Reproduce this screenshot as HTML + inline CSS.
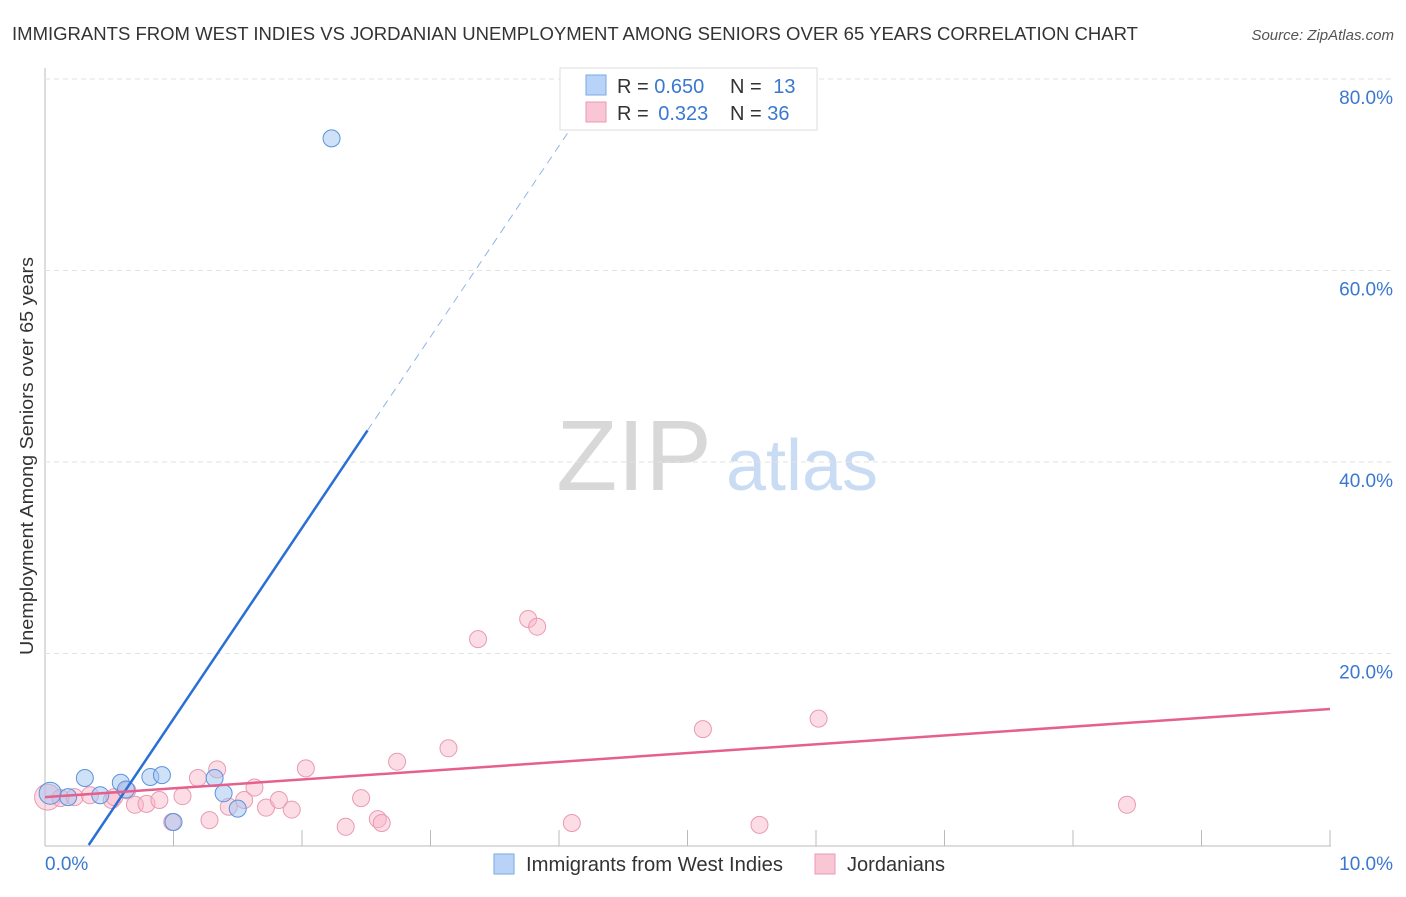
<!DOCTYPE html>
<html><head><meta charset="utf-8"><style>
body{margin:0;background:#fff;font-family:"Liberation Sans",sans-serif;}
svg text{font-family:"Liberation Sans",sans-serif;}
</style></head><body>
<svg id="c" width="1406" height="892">
<text x="12" y="40" font-size="18" fill="#333" textLength="1126" lengthAdjust="spacingAndGlyphs">IMMIGRANTS FROM WEST INDIES VS JORDANIAN UNEMPLOYMENT AMONG SENIORS OVER 65 YEARS CORRELATION CHART</text>
<text x="1394" y="40" font-size="15" fill="#555" font-style="italic" text-anchor="end">Source: ZipAtlas.com</text>
<text x="33" y="456" font-size="18" fill="#333" text-anchor="middle" transform="rotate(-90 33 456)" textLength="398" lengthAdjust="spacingAndGlyphs">Unemployment Among Seniors over 65 years</text>
<text x="634" y="490" font-size="100" fill="#d8d8d8" font-family="Liberation Serif" text-anchor="middle">ZIP</text>
<text x="802" y="490" font-size="72" fill="#c9dcf3" text-anchor="middle">atlas</text>
<g id="grid"></g><g id="marks"></g>
<g>
<rect x="560" y="68" width="257" height="62" fill="#fff" stroke="#ddd"/>
<rect x="586" y="75" width="20" height="20" fill="#b8d3f7" stroke="#7aa9e6"/>
<rect x="586" y="102" width="20" height="20" fill="#f9c6d5" stroke="#ec9ab4"/>
<text x="617" y="93" font-size="20" fill="#333">R = <tspan fill="#3a78d0">0.650</tspan></text>
<text x="730" y="93" font-size="20" fill="#333">N = <tspan fill="#3a78d0" dx="6">13</tspan></text>
<text x="617" y="120" font-size="20" fill="#333">R = <tspan fill="#3a78d0" dx="4">0.323</tspan></text>
<text x="730" y="120" font-size="20" fill="#333">N = <tspan fill="#3a78d0">36</tspan></text>
</g>
<g>
<rect x="494" y="854" width="20" height="20" fill="#b8d3f7" stroke="#7aa9e6"/>
<text x="526" y="871" font-size="20" fill="#333" textLength="257" lengthAdjust="spacingAndGlyphs">Immigrants from West Indies</text>
<rect x="815" y="854" width="20" height="20" fill="#f9c6d5" stroke="#ec9ab4"/>
<text x="847" y="871" font-size="20" fill="#333" textLength="98" lengthAdjust="spacingAndGlyphs">Jordanians</text>
</g>
</svg>
<script>
const blueX=[0.04,0.18,0.31,0.43,0.59,0.63,0.82,0.91,1.00,1.32,1.39,1.50,2.23];
const blueY=[5.4,5.0,7.0,5.2,6.5,5.8,7.1,7.3,2.4,7.0,5.4,3.8,73.8];
const pinkX=[0.02,0.12,0.23,0.35,0.52,0.54,0.64,0.70,0.79,0.89,0.99,1.07,1.19,1.28,1.34,1.43,1.55,1.63,1.72,1.82,1.92,2.03,2.34,2.46,2.59,2.62,2.74,3.14,3.37,3.76,3.83,4.10,5.12,5.56,6.02,8.42];
const pinkY=[5.0,4.9,5.0,5.2,4.7,5.0,5.7,4.2,4.3,4.7,2.4,5.1,7.0,2.6,7.9,4.0,4.7,6.0,3.9,4.7,3.7,8.0,1.9,4.9,2.7,2.3,8.7,10.1,21.5,23.6,22.8,2.3,12.1,2.1,13.2,4.2];
const blueLine=[[0.34,0],[2.51,43.3],[4.25,78]];
const pinkLine=[[0,5.0],[10,14.2]];
const yTicks=[20,40,60,80];
const xTickLabels=["0.0%","10.0%"];
const sx=v=>45+v*128.5, sy=v=>845-v*9.575;
const NS="http://www.w3.org/2000/svg";
const G=document.getElementById('grid'),M=document.getElementById('marks');
function mk(p,tag,a){const e=document.createElementNS(NS,tag);for(const k in a)e.setAttribute(k,a[k]);p.appendChild(e);return e;}
let ax=mk(G,'line',{x1:45,y1:68,x2:45,y2:846,stroke:'#bbb'});


let bx=mk(G,'line',{x1:45,y1:846,x2:1331,y2:846,stroke:'#bbb'});


for(let i=1;i<=10;i++){let t=mk(G,'line',{x1:sx(i),y1:830,x2:sx(i),y2:846,stroke:'#bbb'});

}
yTicks.forEach(v=>{let l=mk(G,'line',{x1:45,y1:sy(v),x2:1392,y2:sy(v),stroke:'#e2e2e2','stroke-dasharray':'5,4'});


let t=mk(G,'text',{x:1393,y:sy(v)+25,'font-size':19,fill:'#3a78d0','text-anchor':'end'});t.textContent=v.toFixed(1)+'%';

});
let x0=mk(G,'text',{x:45,y:870,'font-size':19,fill:'#3a78d0'});x0.textContent=xTickLabels[0];


let x1=mk(G,'text',{x:1393,y:870,'font-size':19,fill:'#3a78d0','text-anchor':'end'});x1.textContent=xTickLabels[1];


pinkX.forEach((x,i)=>{let c=mk(M,'circle',{cx:sx(x),cy:sy(pinkY[i]),r:i==0?13:8.5,fill:'rgba(248,180,200,0.45)',stroke:'#e99ab3','stroke-width':1});

});
blueX.forEach((x,i)=>{let c=mk(M,'circle',{cx:sx(x),cy:sy(blueY[i]),r:i==0?11:8.5,fill:'rgba(160,195,240,0.5)',stroke:'#5b93dc','stroke-width':1});

});
let bl=mk(M,'line',{x1:sx(blueLine[0][0]),y1:sy(blueLine[0][1]),x2:sx(blueLine[1][0]),y2:sy(blueLine[1][1]),stroke:'#2a6fd6','stroke-width':2.5});


let bd=mk(M,'line',{x1:sx(blueLine[1][0]),y1:sy(blueLine[1][1]),x2:sx(blueLine[2][0]),y2:sy(blueLine[2][1]),stroke:'#8fb4e8','stroke-width':1,'stroke-dasharray':'8,6'});


let pl=mk(M,'line',{x1:sx(pinkLine[0][0]),y1:sy(pinkLine[0][1]),x2:sx(pinkLine[1][0]),y2:sy(pinkLine[1][1]),stroke:'#e5608c','stroke-width':2.5});


</script>
</body></html>
